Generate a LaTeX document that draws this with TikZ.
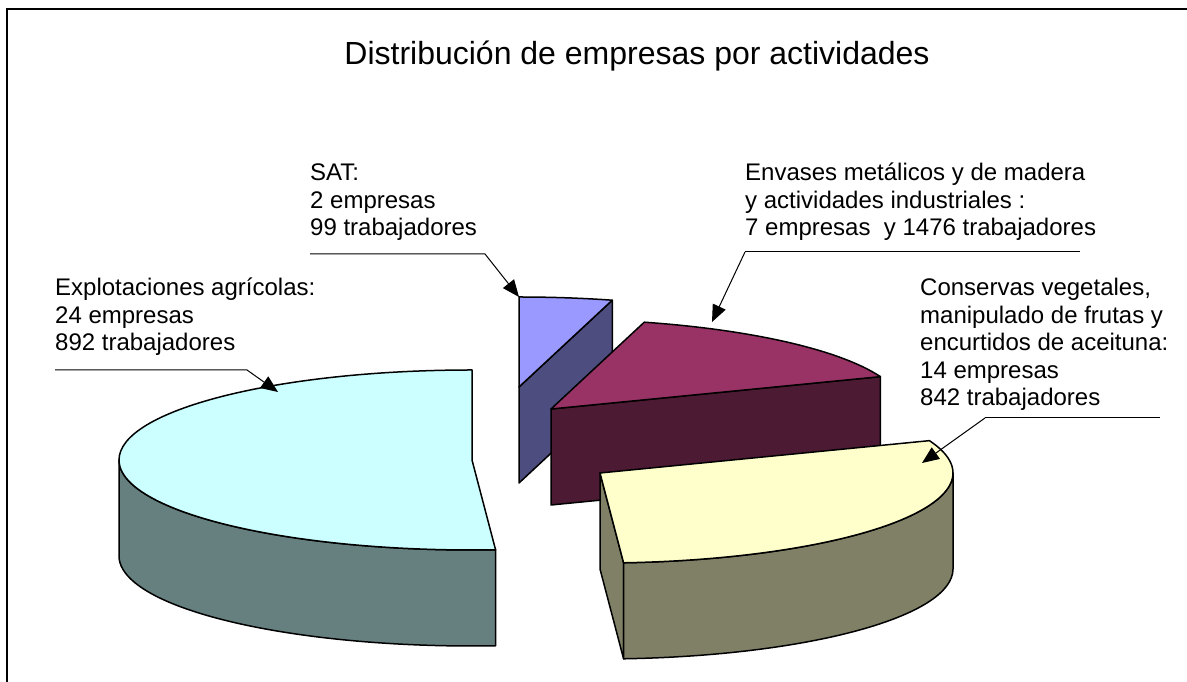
\documentclass[tikz,border=0pt]{standalone}
\usepackage{fontspec}
\setmainfont{Liberation Sans}
\usetikzlibrary{arrows.meta,calc}
\definecolor{cyanTop}{RGB}{204,255,255}
\definecolor{cyanSide}{RGB}{102,128,128}
\definecolor{satTop}{RGB}{153,153,255}
\definecolor{satSide}{RGB}{77,77,128}
\definecolor{marTop}{RGB}{153,51,102}
\definecolor{marSide}{RGB}{77,26,51}
\definecolor{yelTop}{RGB}{255,255,204}
\definecolor{yelSide}{RGB}{128,128,102}
\begin{document}
\begin{tikzpicture}[x=1pt,y=1pt,
  lbl/.style={font=\fontsize{24}{27.5}\selectfont, align=left, inner sep=0pt, anchor=base west},
  leader/.style={draw=black, line width=1pt},
  arr/.style={-{Triangle[length=17pt,width=14pt]}},
  slice/.style={draw=black, line width=1.5pt, line join=round},
  er/.style={x radius=353, y radius=90}]
\useasboundingbox (0,0) rectangle (1187,682);
% frame (top and left edges visible)
\draw[line width=2pt] (7,0) -- (7,672.5) -- (1187,672.5);
% title
\node[font=\fontsize{32}{36}\selectfont, anchor=base, inner sep=0pt] (title) at (637,617) {Distribución de empresas por actividades};
% centres of the exploded slices
\coordinate (c1) at (472,222);
\coordinate (c2) at (519,295);
\coordinate (c3) at (551,273);
\coordinate (c4) at (600,209);
% SAT
\filldraw[fill=satSide, slice] (c2) -- ($(c2)+(74.68:353 and 90)$) -- ++(0,-96) -- ($(c2)+(0,-96)$) -- cycle;
\filldraw[fill=satTop, slice] (c2) -- ($(c2)+(90:353 and 90)$) arc[start angle=90, end angle=74.68, er] -- cycle;
% Envases
\filldraw[fill=marSide, slice] (c3) -- ($(c3)+(21.06:353 and 90)$) -- ++(0,-96) -- ($(c3)+(0,-96)$) -- cycle;
\filldraw[fill=marTop, slice] (c3) -- ($(c3)+(74.68:353 and 90)$) arc[start angle=74.68, end angle=21.06, er] -- cycle;
% Explotaciones
\filldraw[fill=cyanSide, slice] ($(c1)+(180:353 and 90)$) arc[start angle=180, end angle=273.83, er] -- ++(0,-96) arc[start angle=273.83, end angle=180, er] -- cycle;
\filldraw[fill=cyanTop, slice] (c1) -- ($(c1)+(90:353 and 90)$) arc[start angle=90, end angle=273.83, er] -- cycle;
% Conservas
\filldraw[fill=yelSide, slice] (c4) -- ($(c4)+(-86.17:353 and 90)$) -- ++(0,-96) -- ($(c4)+(0,-96)$) -- cycle;
\filldraw[fill=yelSide, slice] ($(c4)+(0:353 and 90)$) arc[start angle=0, end angle=-86.17, er] -- ++(0,-96) arc[start angle=-86.17, end angle=0, er] -- cycle;
\filldraw[fill=yelTop, slice] (c4) -- ($(c4)+(21.06:353 and 90)$) arc[start angle=21.06, end angle=-86.17, er] -- cycle;
% labels (anchored at the baseline of their last line)
\node[lbl] (expl) at (55,331) {Explotaciones agrícolas:\\24 empresas\\892 trabajadores};
\node[lbl] (sat) at (310,446) {SAT:\\2 empresas\\99 trabajadores};
\node[lbl] (env) at (745,446) {Envases metálicos y de madera\\y actividades industriales :\\7 empresas\ \ y 1476 trabajadores};
\node[lbl] (cons) at (920,276) {Conservas vegetales,\\manipulado de frutas y\\encurtidos de aceituna:\\14 empresas\\842 trabajadores};
% leader coordinates
\coordinate (explA) at (55,312);  \coordinate (explB) at (247,312); \coordinate (explT) at (278,290);
\coordinate (satA) at (310,428);  \coordinate (satB) at (485,428);  \coordinate (satT) at (519,385);
\coordinate (envA) at (745,430);  \coordinate (envB) at (1080,430); \coordinate (envT) at (712,360);
\coordinate (consA) at (985,264); \coordinate (consB) at (1160,264); \coordinate (consT) at (922,219);
% leaders
\draw[leader, arr] (explA) -- (explB) -- (explT);
\draw[leader, arr] (satA) -- (satB) -- (satT);
\draw[leader] (envB) -- (envA);
\draw[leader, arr] (envA) -- (envT);
\draw[leader] (consB) -- (consA);
\draw[leader, arr] (consA) -- (consT);
\end{tikzpicture}
\end{document}
